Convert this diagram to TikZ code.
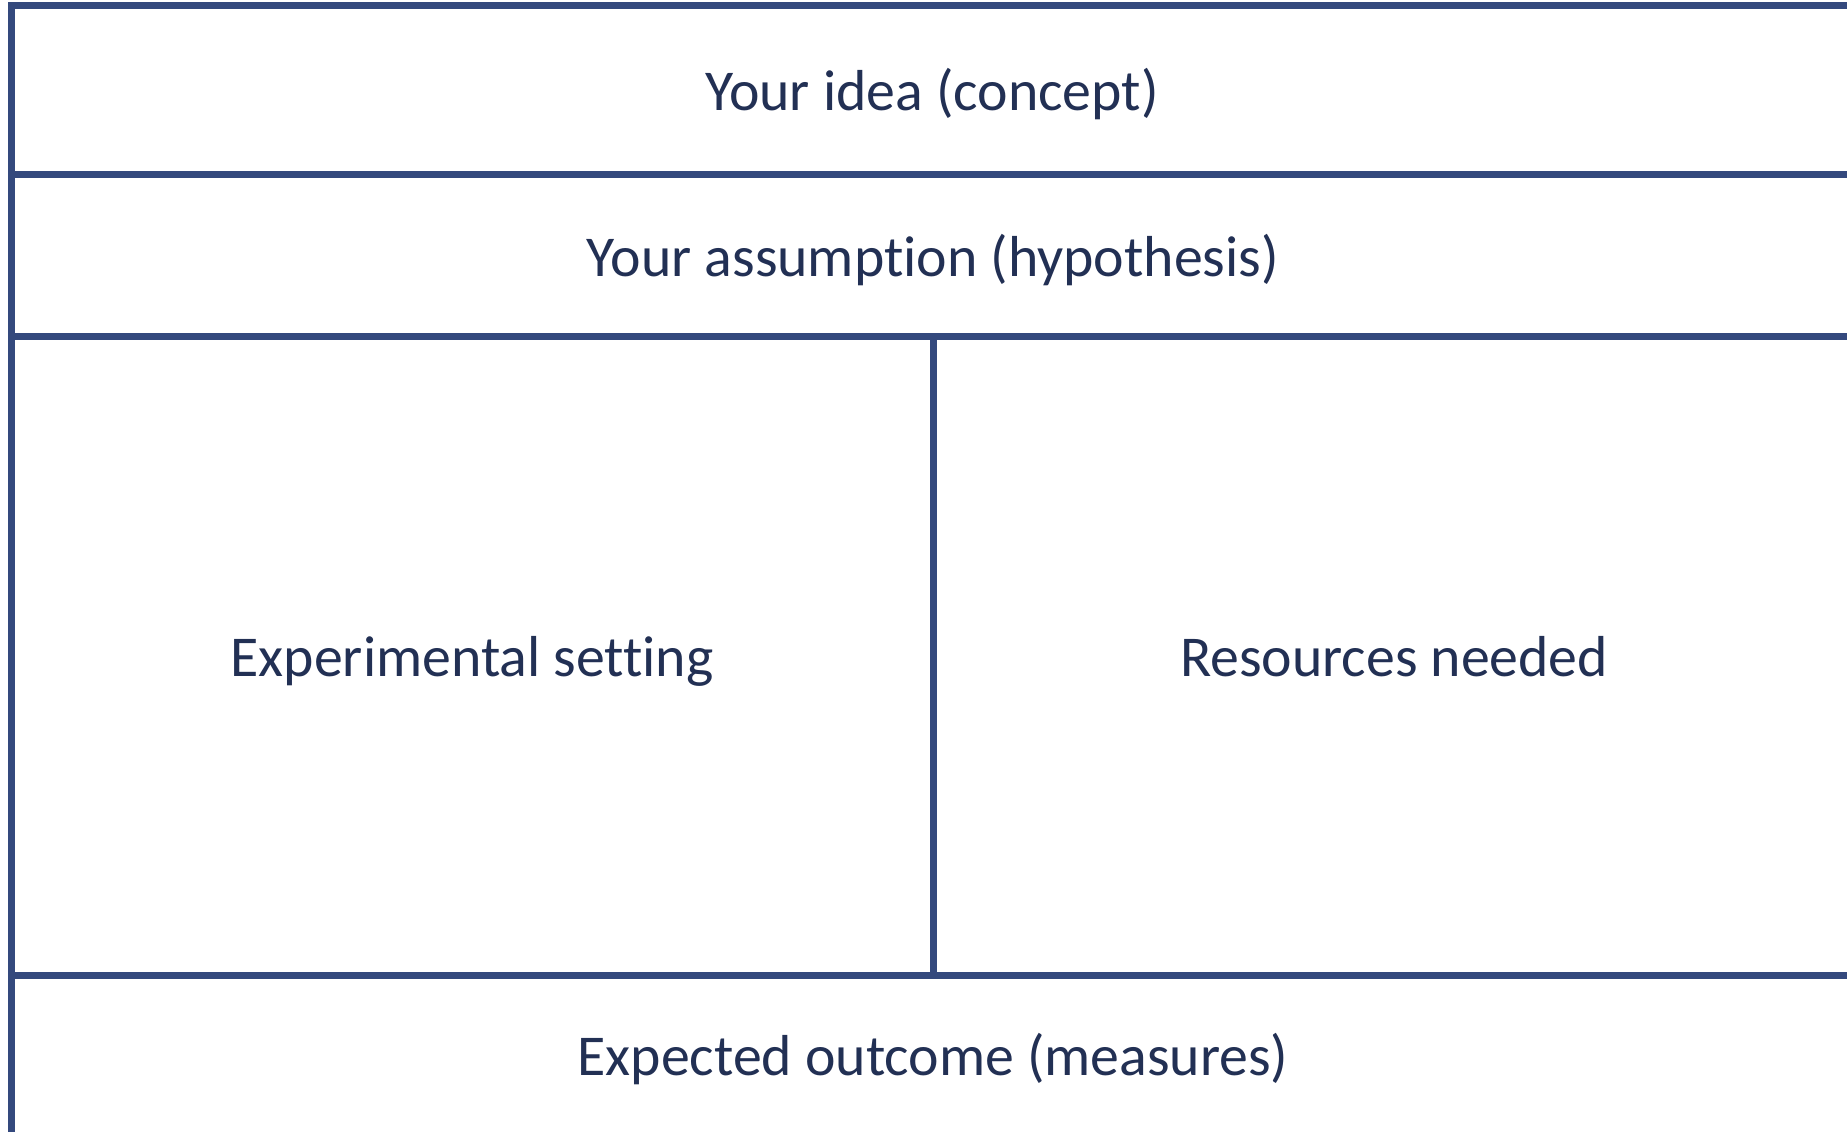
\documentclass[tikz,border=0pt]{standalone}
\usepackage{fontspec}
\setmainfont{Carlito}[Ligatures=NoCommon]
\definecolor{gridblue}{RGB}{52,73,125}
\definecolor{labelnavy}{RGB}{34,48,84}
\begin{document}
\begin{tikzpicture}[x=1bp,y=-1bp,
  rule/.style={draw=gridblue,line width=7bp,line cap=rect},
  label/.style={text=labelnavy,font=\fontsize{58}{68}\selectfont,inner sep=0pt,
    text height=40bp,text depth=0bp,anchor=center}]
  \useasboundingbox[fill=white] (0,0) rectangle (1847,1131);
  \begin{scope}
    \clip (0,0) rectangle (1847,1131);
    % outer frame: top and left edges run off the page
    \draw[rule] (11.5,1140) -- (11.5,5) -- (1860,5);
    % row dividers
    \draw[rule] (11.5,174) -- (1860,174);
    \draw[rule] (11.5,336) -- (1860,336);
    \draw[rule] (11.5,975) -- (1860,975);
    % column divider of the middle row
    \draw[rule,line cap=butt] (933,336) -- (933,975);
  \end{scope}
  \node[label] (idea) at (932,90) {Your idea (concept)};
  \node[label] (assume) at (933,256) {Your assumption (hypothesis)};
  \node[label] (setting) at (472,656) {Experimental setting};
  \node[label] (resources) at (1394,656) {Resources needed};
  \node[label] (outcome) at (933,1055) {Expected outcome (measures)};
\end{tikzpicture}
\end{document}
